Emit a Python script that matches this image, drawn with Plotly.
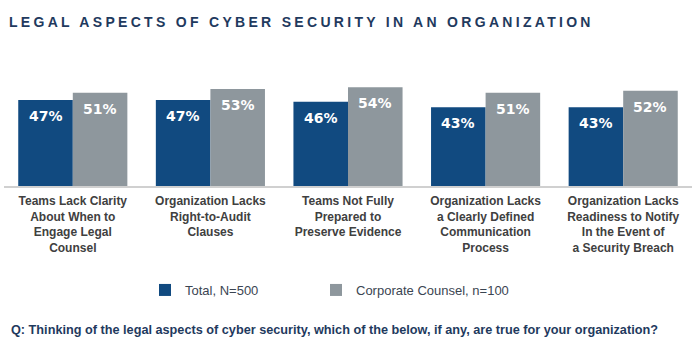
import plotly.graph_objects as go

categories = [
    "Teams Lack Clarity<br>About When to<br>Engage Legal<br>Counsel",
    "Organization Lacks<br>Right-to-Audit<br>Clauses",
    "Teams Not Fully<br>Prepared to<br>Preserve Evidence",
    "Organization Lacks<br>a Clearly Defined<br>Communication<br>Process",
    "Organization Lacks<br>Readiness to Notify<br>In the Event of<br>a Security Breach",
]
total_vals = [47, 47, 46, 43, 43]
counsel_vals = [51, 53, 54, 51, 52]
series_names = ["Total, N=500", "Corporate Counsel, n=100"]
title_text = "LEGAL ASPECTS OF CYBER SECURITY IN AN ORGANIZATION"
footnote = "Q: Thinking of the legal aspects of cyber security, which of the below, if any, are true for your organization?"

BLUE = "#114a80"
GRAY = "#8e979d"
NAVY = "#1f3a5e"

W, H = 700, 354
ml, mr, mt, mb = 4, 8, 60, 168
plot_w = W - ml - mr
plot_h = H - mt - mb
px_per_pct = 1.83
ymax = plot_h / px_per_pct

bargap = 0.207
cat_px = plot_w / len(categories)
bar_off_px = (1 - bargap) / 4 * cat_px

fig = go.Figure()
fig.add_trace(go.Bar(x=categories, y=total_vals, name=series_names[0],
                     marker=dict(color=BLUE, line=dict(width=0)), legend="legend"))
fig.add_trace(go.Bar(x=categories, y=counsel_vals, name=series_names[1],
                     marker=dict(color=GRAY, line=dict(width=0)), legend="legend2"))

annotations = []
for i, c in enumerate(categories):
    for vals, sh in ((total_vals, -bar_off_px), (counsel_vals, bar_off_px)):
        annotations.append(dict(
            x=c, y=vals[i], xref="x", yref="y", text=f"{vals[i]}%",
            showarrow=False, xshift=sh, yshift=-16, yanchor="middle",
            font=dict(family="DejaVu Sans", size=14, color="white", weight="bold"),
        ))

annotations.append(dict(
    x=(9 - ml) / plot_w, y=-(330 - (mt + plot_h)) / plot_h, xref="paper", yref="paper",
    xanchor="left", yanchor="middle", showarrow=False, text=footnote,
    font=dict(family="Liberation Sans", size=12.7, color=NAVY, weight="bold"),
))

legend_common = dict(orientation="h", xanchor="left",
                     y=-(290 - (mt + plot_h)) / plot_h, yanchor="middle",
                     font=dict(family="Liberation Sans", size=13, color="#3b4552"),
                     bgcolor="rgba(0,0,0,0)")

fig.update_layout(
    width=W, height=H,
    margin=dict(l=ml, r=mr, t=mt, b=mb),
    paper_bgcolor="white", plot_bgcolor="white",
    barmode="group", bargap=bargap, bargroupgap=0,
    title=dict(text=title_text, x=9 / W, xanchor="left", xref="container",
               y=1 - 21.7 / H, yanchor="middle", yref="container",
               font=dict(family="Liberation Sans", size=14, color=NAVY, weight="bold")),
    xaxis=dict(showline=True, linecolor="#d0d0d0", linewidth=1.5, ticks="",
               ticklabelstandoff=3,
               tickfont=dict(family="Liberation Sans", size=12, color="#404040", weight="bold"),
               showgrid=False, zeroline=False, fixedrange=True),
    yaxis=dict(range=[0, ymax], visible=False, showgrid=False, zeroline=False, fixedrange=True),
    showlegend=True,
    legend=dict(x=(145 - ml) / plot_w, **legend_common),
    legend2=dict(x=(316 - ml) / plot_w, **legend_common),
    annotations=annotations,
)

post = """
var t = document.querySelector('.gtitle');
if (t) { t.style.letterSpacing = '3.3px'; }
"""
fig.write_html("out.html", post_script=post)
